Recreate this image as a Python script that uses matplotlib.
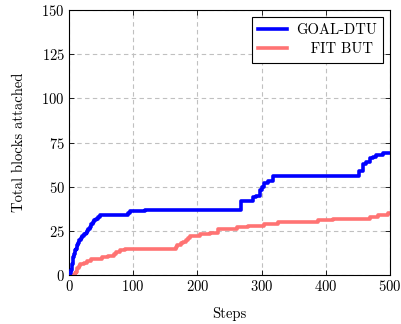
import matplotlib
matplotlib.use("Agg")
import matplotlib.pyplot as plt

plt.rcParams['font.family'] = 'serif'
plt.rcParams['font.serif'] = ['cmr10', 'DejaVu Serif']
plt.rcParams['axes.formatter.use_mathtext'] = True
plt.rcParams['mathtext.fontset'] = 'cm'

# Cumulative blocks attached per step (step functions)
goal_steps = [0, 2, 3, 3.5, 4, 4.5, 5, 5.5, 6, 6.5, 7, 7.5, 8, 9, 10, 11, 12,
              13, 14, 15, 16, 18, 20, 23, 26, 28, 30, 32, 34, 35, 37, 39, 42,
              45, 48, 92, 95, 100, 118, 266, 268, 287, 292, 297, 300, 303,
              310, 318, 447, 452, 458, 463, 469, 474, 479, 484, 489, 500]
goal_blocks = [0, 1, 2, 3, 4, 5, 6, 7, 8, 9, 10, 11, 12, 13, 14, 15, 16,
               17, 18, 19, 20, 21, 22, 23, 24, 25, 26, 27, 28, 29, 30, 31, 32,
               33, 34, 35, 36, 36, 37, 37, 42, 44, 45, 48, 50, 52,
               53, 56, 56, 59, 63, 64, 66, 67, 68, 68, 69, 69]

fit_steps = [0, 10, 11, 12, 13, 15, 17, 23, 28, 35, 51, 61, 70, 74, 80, 87,
             166, 169, 174, 178, 182, 185, 189, 204, 220, 232, 261, 279, 303,
             326, 388, 412, 469, 482, 497, 500]
fit_blocks = [0, 1, 2, 3, 4, 5, 6, 7, 8, 9, 10, 11, 12, 13, 14, 15,
              16, 17, 18, 19, 20, 21, 22, 23, 24, 26, 27, 28, 29,
              30, 31, 32, 33, 34, 35, 35]

x_ticks = [0, 100, 200, 300, 400, 500]
y_ticks = [0, 25, 50, 75, 100, 125, 150]

fig = plt.figure(figsize=(4.02, 3.24), dpi=100)
ax = fig.add_axes([0.1716, 0.151, 0.7985, 0.818])

ax.plot(goal_steps, goal_blocks, drawstyle='steps-post', color='#0000ff',
        lw=2.6, label='GOAL-DTU', zorder=3)
ax.plot(fit_steps, fit_blocks, drawstyle='steps-post', color='#ff7373',
        lw=2.6, label='   FIT BUT', zorder=2)

ax.set_xlim(0, 500)
ax.set_ylim(0, 150)
ax.set_xticks(x_ticks)
ax.set_yticks(y_ticks)
ax.grid(True, linestyle=(0, (4, 3)), color='#c0c0c0', lw=0.8)
ax.set_axisbelow(True)
ax.tick_params(direction='in', top=True, right=True, length=3.5,
               labelsize=10.5, width=0.6, pad=3)
for s in ax.spines.values():
    s.set_linewidth(0.8)

ax.set_xlabel('Steps', fontsize=10.5, labelpad=9)
ax.set_ylabel('Total blocks attached', fontsize=10.5, labelpad=11)

leg = ax.legend(loc='upper right', fontsize=10.5, fancybox=False, framealpha=1,
                edgecolor='black', handlelength=2.0, handletextpad=0.6,
                borderaxespad=0.45, borderpad=0.45, labelspacing=0.4)
leg.get_frame().set_linewidth(0.8)

fig.savefig('out.png', dpi=100)
